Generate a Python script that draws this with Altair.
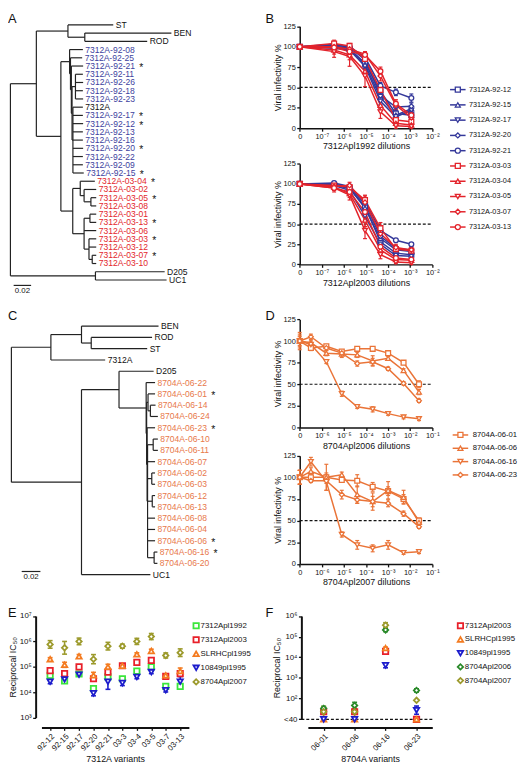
import altair as alt
import pandas as pd

# ----------------------------------------------------------------- data
B_SERIES = ["7312A-92-12", "7312A-92-15", "7312A-92-17", "7312A-92-20", "7312A-92-21",
            "7312A-03-03", "7312A-03-04", "7312A-03-05", "7312A-03-07", "7312A-03-13"]
B_DILUTIONS = [0, 3.6e-7, 1.8e-6, 9.0e-6, 4.5e-5, 2.25e-4, 1.125e-3]
B1_VALUES = [
    [100, 100, 97, 80, 45, 18, 16],
    [100, 101, 98, 78, 38, 16, 24],
    [100, 98, 96, 76, 33, 14, 22],
    [100, 103, 99, 84, 40, 26, 27],
    [100, 102, 100, 87, 52, 44, 37],
    [100, 104, 101, 85, 47, 10, 8],
    [100, 96, 90, 70, 28, 6, 4],
    [100, 94, 88, 64, 20, 3, 2],
    [100, 100, 97, 91, 64, 28, 13],
    [100, 99, 94, 90, 70, 30, 16],
]
B1_SD = [
    [0, 3, 2, 3, 5, 4, 4], [0, 4, 3, 4, 4, 3, 3], [0, 2, 2, 3, 4, 3, 3],
    [0, 3, 2, 3, 5, 4, 4], [0, 3, 2, 2, 4, 4, 5], [0, 4, 3, 3, 5, 3, 3],
    [0, 5, 6, 6, 6, 3, 2], [0, 7, 12, 13, 8, 3, 2], [0, 3, 3, 3, 6, 5, 4],
    [0, 4, 4, 3, 5, 5, 5],
]
B2_VALUES = [
    [100, 99, 94, 72, 28, 14, 12],
    [100, 100, 95, 70, 32, 18, 16],
    [100, 98, 92, 60, 25, 11, 10],
    [100, 99, 96, 75, 35, 20, 18],
    [100, 101, 97, 78, 42, 30, 25],
    [100, 98, 96, 80, 45, 19, 17],
    [100, 96, 88, 55, 18, 6, 5],
    [100, 95, 86, 42, 12, 3, 2],
    [100, 97, 98, 77, 38, 21, 18],
    [100, 95, 90, 65, 22, 8, 6],
]
B2_SD = [
    [0, 2, 2, 4, 4, 3, 3], [0, 3, 2, 4, 4, 3, 3], [0, 2, 3, 5, 4, 3, 3],
    [0, 2, 2, 4, 4, 3, 3], [0, 2, 2, 4, 4, 2, 2], [0, 4, 3, 6, 7, 4, 4],
    [0, 4, 5, 8, 5, 3, 3], [0, 5, 6, 10, 5, 2, 2], [0, 3, 4, 8, 6, 4, 4],
    [0, 3, 5, 7, 5, 3, 3],
]

D_SERIES = ["8704A-06-01", "8704A-06-06", "8704A-06-16", "8704A-06-23"]
D_DILUTIONS = [0, 3.2e-7, 1.6e-6, 8e-6, 4e-5, 2e-4, 1e-3, 5e-3, 2.5e-2]
D1_VALUES = [
    [100, 92, 94, 88, 91, 91, 86, 75, 50],
    [100, 98, 86, 85, 84, 77, 80, 66, 41],
    [100, 96, 76, 39, 24, 21, 16, 12, 10],
    [100, 105, 92, 86, 74, 76, 68, 51, 31],
]
D1_SD = [
    [8, 3, 2, 2, 2, 2, 2, 2, 4], [6, 3, 3, 4, 3, 6, 2, 2, 3],
    [5, 3, 2, 3, 2, 3, 2, 2, 2], [10, 3, 3, 3, 3, 4, 2, 2, 2],
]
D2_VALUES = [
    [100, 100, 100, 97, 96, 89, 84, 75, 50],
    [100, 107, 100, 103, 80, 72, 85, 77, 48],
    [100, 118, 95, 34, 22, 18, 22, 13, 14],
    [100, 96, 96, 80, 74, 72, 70, 58, 43],
]
D2_SD = [
    [8, 3, 3, 2, 7, 5, 5, 5, 3], [8, 4, 15, 3, 10, 10, 10, 8, 3],
    [8, 5, 10, 3, 5, 4, 5, 2, 2], [8, 2, 3, 5, 4, 6, 4, 3, 2],
]
HALF_LINE = [50]

E_VARIANTS = ["92-12", "92-15", "92-17", "92-20", "92-21", "03-3", "03-4", "03-5", "03-7", "03-13"]
E_SERA = ["7312Apl1992", "7312Apl2003", "SLRHCpl1995", "10849pl1995", "8704Apl2007"]
E_VALUES = [
    [4.6e4, 2.8e4, 5.2e4, 1.4e4, 4.0e4, 3.4e4, 6.8e4, 1.0e5, 1.7e4, 1.7e4],
    [7.1e4, 5.4e4, 1.0e5, 3.4e4, 6.2e4, 1.1e5, 1.5e5, 1.8e5, 4.2e4, 5.4e4],
    [2.0e5, 1.2e5, 2.6e5, 4.6e4, 1.0e5, 1.1e5, 3.1e5, 4.2e5, 4.6e4, 6.8e4],
    [2.6e4, 3.2e4, 4.9e4, 9.1e3, 2.6e4, 2.3e4, 4.0e4, 6.2e4, 1.2e4, 2.6e4],
    [7.6e5, 5.6e5, 1.0e6, 2.0e5, 6.5e5, 6.5e5, 1.0e6, 1.55e6, 2.8e5, 3.6e5],
]
E_ERR_LOG = [
    [0.05, 0.06, 0.05, 0.06, 0.05, 0.04, 0.05, 0.05, 0.05, 0.10],
    [0.08, 0.06, 0.05, 0.08, 0.15, 0.06, 0.08, 0.10, 0.06, 0.10],
    [0.06, 0.10, 0.07, 0.12, 0.10, 0.05, 0.06, 0.07, 0.05, 0.12],
    [0.08, 0.12, 0.06, 0.10, 0.30, 0.10, 0.07, 0.06, 0.07, 0.20],
    [0.15, 0.25, 0.13, 0.18, 0.15, 0.08, 0.12, 0.12, 0.10, 0.15],
]

F_VARIANTS = ["06-01", "06-06", "06-16", "06-23"]
F_SERA = ["7312Apl2003", "SLRHCpl1995", "10849pl1995", "8704Apl2006", "8704Apl2007"]
F_VALUES = [          # 40 = below detection (<40)
    [56, 56, 1.95e4, 40],
    [40, 40, 2.8e4, 40],
    [40, 40, 4.1e3, 60],
    [65, 74, 2.1e5, 250],
    [56, 56, 3.6e5, 93],
]
F_ERR = [
    [0.10, 0.10, 0.05, 0.0],
    [0.0, 0.0, 0.05, 0.0],
    [0.0, 0.0, 0.12, 0.20],
    [0.10, 0.15, 0.08, 0.08],
    [0.25, 0.25, 0.12, 0.0],
]

TREE_A = ("n", 0.0, [
    ("n", 0.0297, [
        ("n", 0.0659, [("l", 0.1178, "ST"),
                       ("n", 0.0852, [("l", 0.1844, "BEN"), ("l", 0.1567, "ROD")])]),
        ("n", 0.0578, [
            ("n", 0.0678, [
                ("l", 0.0830, "7312A-92-08"),
                ("n", 0.0688, [
                    ("l", 0.0822, "7312A-92-25"),
                    ("n", 0.0698, [
                        ("l", 0.0833, "7312A-92-21"),
                        ("n", 0.0706, [
                            ("n", 0.0745, [("l", 0.0830, "7312A-92-11"), ("l", 0.0833, "7312A-92-26"),
                                           ("l", 0.0830, "7312A-92-18"), ("l", 0.0833, "7312A-92-23")]),
                            ("n", 0.0716, [("l", 0.0830, "7312A"), ("l", 0.0830, "7312A-92-17"),
                                           ("l", 0.0833, "7312A-92-12"), ("l", 0.0830, "7312A-92-13"),
                                           ("l", 0.0830, "7312A-92-16"), ("l", 0.0833, "7312A-92-20"),
                                           ("l", 0.0830, "7312A-92-22"), ("l", 0.0830, "7312A-92-09"),
                                           ("l", 0.0840, "7312A-92-15")]),
                        ]),
                    ]),
                ]),
            ]),
            ("n", 0.0714, [
                ("n", 0.0800, [("l", 0.0967, "7312A-03-04"),
                               ("n", 0.0844, [("l", 0.0983, "7312A-03-02"),
                                              ("n", 0.0922, [("l", 0.0983, "7312A-03-05"),
                                                             ("l", 0.0983, "7312A-03-08")])])]),
                ("n", 0.0844, [("n", 0.0911, [("l", 0.0983, "7312A-03-01"), ("l", 0.0983, "7312A-03-13")]),
                               ("l", 0.0983, "7312A-03-06"),
                               ("n", 0.0900, [("l", 0.0983, "7312A-03-03"), ("l", 0.0983, "7312A-03-12"),
                                              ("n", 0.0937, [("l", 0.0983, "7312A-03-07"),
                                                             ("l", 0.0983, "7312A-03-10")])])]),
            ]),
        ]),
    ]),
    ("n", 0.0974, [("l", 0.1767, "D205"), ("l", 0.1789, "UC1")]),
])

TREE_C = ("n", 0.0, [
    ("n", 0.0422, [
        ("n", 0.0749, [("l", 0.1572, "BEN"),
                       ("n", 0.0853, [("l", 0.1503, "ROD"), ("l", 0.1451, "ST")])]),
        ("l", 0.1002, "7312A")]),
    ("n", 0.0749, [
        ("n", 0.1150, [
            ("l", 0.1520, "D205"),
            ("n", 0.1440, [
                ("l", 0.1535, "8704A-06-22"),
                ("n", 0.1445, [
                    ("n", 0.1460, [("l", 0.1535, "8704A-06-01"),
                                   ("n", 0.1485, [("l", 0.1540, "8704A-06-14"),
                                                  ("l", 0.1565, "8704A-06-24")])]),
                    ("n", 0.1450, [
                        ("l", 0.1535, "8704A-06-23"),
                        ("n", 0.1455, [
                            ("n", 0.1515, [("l", 0.1565, "8704A-06-10"), ("l", 0.1565, "8704A-06-11")]),
                            ("l", 0.1535, "8704A-06-07"),
                            ("n", 0.1500, [("l", 0.1535, "8704A-06-02"), ("l", 0.1535, "8704A-06-03")]),
                            ("n", 0.1505, [("l", 0.1535, "8704A-06-12"), ("l", 0.1535, "8704A-06-13")]),
                            ("l", 0.1535, "8704A-06-08"), ("l", 0.1535, "8704A-06-04"),
                            ("l", 0.1535, "8704A-06-06"),
                            ("n", 0.1525, [("l", 0.1560, "8704A-06-16"), ("l", 0.1560, "8704A-06-20")]),
                        ]),
                    ]),
                ]),
            ]),
        ]),
        ("l", 0.1485, "UC1")]),
])

STARRED = ["7312A-92-21", "7312A-92-17", "7312A-92-12", "7312A-92-20", "7312A-92-15",
           "7312A-03-04", "7312A-03-05", "7312A-03-13", "7312A-03-03", "7312A-03-07",
           "8704A-06-01", "8704A-06-23", "8704A-06-06", "8704A-06-16"]
SCALE_BAR = 0.02
PANEL_LETTERS = ["A", "B", "C", "D", "E", "F"]

# ----------------------------------------------------------------- style / layout
W, H = 520, 763
FONT = "Liberation Sans"
INK = "#111111"
BLUE, RED, ORANGE = "#34389a", "#e3232b", "#ea7438"
B_COLORS = [BLUE] * 5 + [RED] * 5
B_SHAPES = ["square", "triangle-up", "triangle-down", "diamond", "circle"] * 2
D_COLORS = [ORANGE] * 4
D_SHAPES = ["square", "triangle-up", "triangle-down", "diamond"]
SERA_COLORS = {"7312Apl1992": "#3be63b", "7312Apl2003": "#e8202a", "SLRHCpl1995": "#f47b20",
               "10849pl1995": "#1c1ccc", "8704Apl2006": "#2a8a2a", "8704Apl2007": "#9c9a2c"}
SERA_SHAPES = {"7312Apl1992": "square", "7312Apl2003": "square", "SLRHCpl1995": "triangle-up",
               "10849pl1995": "triangle-down", "8704Apl2006": "diamond", "8704Apl2007": "diamond"}


def cx(x):
    return (x - 1.5) * 0.985


def cy(y):
    return (y - 3) * 0.99


def lin(domain, rng):
    return alt.Scale(domain=domain, range=rng, nice=False, zero=False)


SUP = str.maketrans("-0123456789", "⁻⁰¹²³⁴⁵⁶⁷⁸⁹")


def ternary(pairs):
    s = "''"
    for k, v in reversed(pairs):
        s = f"datum.value == {k} ? '{v}' : ({s})"
    return s


AXSTYLE = dict(labelFont=FONT, titleFont=FONT, labelColor=INK, titleColor=INK, domainColor=INK,
               tickColor=INK, titleFontWeight="normal", grid=False, labelFlush=False,
               labelOverlap=False, domainWidth=1.5, tickWidth=1.3, tickSize=3)

layers = []

# ----------------------------------------------------------------- panel letters
letters = pd.DataFrame({"L": PANEL_LETTERS, "col": [0, 1, 0, 1, 0, 1], "row": [0, 0, 1, 1, 2, 2]})
layers.append(
    alt.Chart(letters).mark_text(font=FONT, fontSize=13, align="left", baseline="middle", color=INK)
    .encode(x=alt.X("col:Q", scale=lin([0, 1], [cx(1.5), cx(267)]), axis=None),
            y=alt.Y("row:Q", scale=lin([0, 2], [cy(8), cy(618)]), axis=None),
            text="L:N"))


# ----------------------------------------------------------------- trees
def build_tree(tree):
    leaves, segs = [], []

    def walk(node, parent_depth):
        if node[0] == "l":
            _, depth, name = node
            idx = len(leaves)
            leaves.append(dict(name=name, depth=depth, idx=idx))
            segs.append(dict(x=parent_depth, x2=depth, y=idx, y2=idx))
            return idx
        _, depth, children = node
        ys = [walk(c, depth) for c in children]
        y = (ys[0] + ys[-1]) / 2
        segs.append(dict(x=depth, x2=depth, y=ys[0], y2=ys[-1]))
        if parent_depth is not None:
            segs.append(dict(x=parent_depth, x2=depth, y=y, y2=y))
        return y

    walk(tree, None)
    return pd.DataFrame(leaves), pd.DataFrame(segs)


def group_of(name):
    if name.startswith("7312A-92"):
        return "g92"
    if name.startswith("7312A-03"):
        return "g03"
    if name.startswith("8704A"):
        return "g06"
    return "ref"


def tree_layers(tree, x0, px_per_unit, y_top, y_bot, bar_start, bar_row):
    leaves, segs = build_tree(tree)
    n = len(leaves)
    leaves["grp"] = leaves["name"].map(group_of)
    leaves["star"] = leaves["name"].isin(STARRED)
    xs = lin([0, 0.2], [cx(x0), cx(x0 + 0.2 * px_per_unit)])
    ys = lin([0, n - 1], [cy(y_top), cy(y_bot)])
    out = []
    out.append(alt.Chart(segs).mark_rule(color="#222222", strokeWidth=1.2)
               .encode(x=alt.X("x:Q", scale=xs, axis=None), x2="x2:Q",
                       y=alt.Y("y:Q", scale=ys, axis=None), y2="y2:Q"))
    gcol = alt.Scale(domain=["ref", "g92", "g03", "g06"], range=[INK, "#3d429e", "#e3262c", "#e8784a"])
    out.append(alt.Chart(leaves).mark_text(font=FONT, fontSize=8.7, align="left", baseline="middle", dx=2.5)
               .encode(x=alt.X("depth:Q", scale=xs, axis=None), y=alt.Y("idx:Q", scale=ys, axis=None),
                       text="name:N", color=alt.Color("grp:N", scale=gcol, legend=None)))
    out.append(alt.Chart(leaves[leaves["star"]]).mark_text(font=FONT, fontSize=10.5, align="left",
                                                           baseline="middle", dx=57, dy=2,
                                                           color=INK, text="*")
               .encode(x=alt.X("depth:Q", scale=xs, axis=None), y=alt.Y("idx:Q", scale=ys, axis=None)))
    bar = pd.DataFrame({"a": [bar_start], "b": [bar_start + SCALE_BAR], "r": [n - 1 + bar_row],
                        "m": [bar_start + SCALE_BAR / 2], "t": [f"{SCALE_BAR:.2f}"]})
    out.append(alt.Chart(bar).mark_rule(color="#222222", strokeWidth=1.2)
               .encode(x=alt.X("a:Q", scale=xs, axis=None), x2="b:Q",
                       y=alt.Y("r:Q", scale=ys, axis=None)))
    out.append(alt.Chart(bar).mark_text(font=FONT, fontSize=8, baseline="top", dy=1.5, color=INK)
               .encode(x=alt.X("m:Q", scale=xs, axis=None), y=alt.Y("r:Q", scale=ys, axis=None),
                       text="t:N"))
    return out


layers += tree_layers(TREE_A, 4, 900, 14.3, 276, 0.0037, 0.66)
layers += tree_layers(TREE_C, 5, 965, 323.3, 578.3, 0.011, -0.28)


# ----------------------------------------------------------------- dose-response panels
def dose_layers(series, colors, shapes, dil, values, sds, xdom, x_px, y_px, xtitle):
    rows = []
    for s, vals, sd in zip(series, values, sds):
        for d, v, e in zip(dil, vals, sd):
            rows.append(dict(s=s, dil=d, v=v, sd=e))
    df = pd.DataFrame(rows)
    xs = lin(xdom, [cx(x_px[0]), cx(x_px[1])])
    ys = lin([0, 125], [cy(y_px[0]), cy(y_px[1])])
    ticks = list(range(xdom[0], xdom[1] + 1))
    pairs = [(k, "0" if k == xdom[0] else "10" + str(k).translate(SUP)) for k in ticks]
    xaxis = alt.Axis(orient="bottom", offset=cy(y_px[0]) - H, values=ticks, labelExpr=ternary(pairs),
                     title=xtitle, labelFontSize=7.5, titleFontSize=9, labelPadding=1.5,
                     titlePadding=2, **AXSTYLE)
    yaxis = alt.Axis(orient="left", offset=-cx(x_px[0]), values=[0, 25, 50, 75, 100, 125],
                     title="Viral infectivity %", labelFontSize=7.5, titleFontSize=9,
                     labelPadding=1.5, titlePadding=1, **AXSTYLE)
    color = alt.Color("s:N", scale=alt.Scale(domain=series, range=colors), legend=None)
    base = alt.Chart(df).transform_calculate(
        lx=f"datum.dil > 0 ? log(datum.dil) / LN10 : {xdom[0]}",
        lo="datum.v - datum.sd", hi="datum.v + datum.sd")
    out = []
    out.append(alt.Chart(pd.DataFrame({"h": HALF_LINE})).mark_rule(strokeDash=[3, 2], color=INK,
                                                                  strokeWidth=1.2)
               .encode(x=alt.XDatum(xdom[0], type="quantitative", scale=xs, axis=xaxis),
                       x2=alt.X2Datum(xdom[1]),
                       y=alt.Y("h:Q", scale=ys, axis=yaxis)))
    out.append(base.mark_line(strokeWidth=1.5)
               .encode(x=alt.X("lx:Q", scale=xs, axis=None), y=alt.Y("v:Q", scale=ys, axis=None),
                       color=color))
    eb = base.transform_filter("datum.sd > 0")
    out.append(eb.mark_rule(strokeWidth=1.2)
               .encode(x=alt.X("lx:Q", scale=xs, axis=None), y=alt.Y("lo:Q", scale=ys, axis=None),
                       y2="hi:Q", color=color))
    out.append(eb.transform_fold(["lo", "hi"], as_=["k", "yy"])
               .mark_tick(orient="horizontal", size=4, thickness=1.2, opacity=1)
               .encode(x=alt.X("lx:Q", scale=xs, axis=None), y=alt.Y("yy:Q", scale=ys, axis=None),
                       color=color))
    out.append(base.mark_point(filled=False, fill="white", fillOpacity=1, opacity=1, size=24,
                               strokeWidth=1.3)
               .encode(x=alt.X("lx:Q", scale=xs, axis=None), y=alt.Y("v:Q", scale=ys, axis=None),
                       color=color,
                       shape=alt.Shape("s:N", scale=alt.Scale(domain=series, range=shapes),
                                       legend=None)))
    return out


def line_legend(series, colors, shapes, x_px, y_px, text_dx, font_size):
    df = pd.DataFrame({"s": series})
    xs = lin([0, 1], [cx(x_px[0]), cx(x_px[1])])
    ys = alt.Scale(type="point", domain=series, range=[cy(y_px[0]), cy(y_px[1])], padding=0)
    color = alt.Color("s:N", scale=alt.Scale(domain=series, range=colors), legend=None)
    y = alt.Y("s:N", scale=ys, axis=None)
    out = []
    out.append(alt.Chart(df).mark_rule(strokeWidth=1.5)
               .encode(x=alt.XDatum(0, type="quantitative", scale=xs, axis=None), x2=alt.X2Datum(1),
                       y=y, color=color))
    out.append(alt.Chart(df).mark_point(filled=False, fill="white", fillOpacity=1, opacity=1, size=26,
                                        strokeWidth=1.3)
               .encode(x=alt.XDatum(0.5, type="quantitative", scale=xs, axis=None), y=y, color=color,
                       shape=alt.Shape("s:N", scale=alt.Scale(domain=series, range=shapes),
                                       legend=None)))
    out.append(alt.Chart(df).mark_text(font=FONT, fontSize=font_size, align="left", baseline="middle",
                                       dx=text_dx, color=INK)
               .encode(x=alt.XDatum(1, type="quantitative", scale=xs, axis=None), y=y, text="s:N"))
    return out


layers += dose_layers(B_SERIES, B_COLORS, B_SHAPES, B_DILUTIONS, B1_VALUES, B1_SD, [-8, -2],
                      [302.3, 439], [120.3, 15.8], "7312Apl1992 dilutions")
layers += dose_layers(B_SERIES, B_COLORS, B_SHAPES, B_DILUTIONS, B2_VALUES, B2_SD, [-8, -2],
                      [302.3, 439], [260, 156.8], "7312Apl2003 dilutions")
layers += line_legend(B_SERIES, B_COLORS, B_SHAPES, [457.3, 473.3], [80.7, 221.7], 3.4, 7.4)

layers += dose_layers(D_SERIES, D_COLORS, D_SHAPES, D_DILUTIONS, D1_VALUES, D1_SD, [-7, -1],
                      [302.3, 439], [427.3, 316.5], "8704Apl2006 dilutions")
layers += dose_layers(D_SERIES, D_COLORS, D_SHAPES, D_DILUTIONS, D2_VALUES, D2_SD, [-7, -1],
                      [302.3, 439], [567.3, 456.2], "8704Apl2007 dilutions")
layers += line_legend(D_SERIES, D_COLORS, D_SHAPES, [460, 476], [435, 476], 4.6, 7.8)


# ----------------------------------------------------------------- IC50 panels
def ic50_layers(variants, sera, values, errs, kind, x_px, pt_pad, y_px, axis_x, title,
                legend_x, legend_y):
    rows = []
    for s, vals, es in zip(sera, values, errs):
        for c, v, e in zip(variants, vals, es):
            rows.append(dict(s=s, c=c, v=v, e=e))
    df = pd.DataFrame(rows)
    color = alt.Color("s:N", scale=alt.Scale(domain=sera, range=[SERA_COLORS[s] for s in sera]),
                      legend=None)
    shape = alt.Shape("s:N", scale=alt.Scale(domain=sera, range=[SERA_SHAPES[s] for s in sera]),
                      legend=None)
    xs = alt.Scale(type="point", domain=variants, range=[cx(x_px[0]), cx(x_px[1])], padding=pt_pad)
    if kind == "E":
        ys = alt.Scale(type="log", domain=[1e3, 1e7], range=[cy(y_px[0]), cy(y_px[1])], nice=False)
        yvals = [1e3, 1e4, 1e5, 1e6, 1e7]
        pairs = [(int(v), "10" + str(k).translate(SUP)) for v, k in zip(yvals, range(3, 8))]
        base = alt.Chart(df).transform_calculate(p="datum.v", lo="datum.v / pow(10, datum.e)",
                                                 hi="datum.v * pow(10, datum.e)")
    else:
        ys = lin([1, 6], [cy(y_px[0]), cy(y_px[1])])
        yvals = [1, 2, 3, 4, 5, 6]
        pairs = [(1, "<40")] + [(k, "10" + str(k).translate(SUP)) for k in range(2, 7)]
        base = alt.Chart(df).transform_calculate(
            p="datum.v <= 40 ? 1 : (datum.v < 100 ? 1 + (log(datum.v) - log(40)) / (log(100) - log(40))"
              " : log(datum.v) / LN10)").transform_calculate(lo="datum.p - datum.e",
                                                             hi="datum.p + datum.e")
    xaxis = alt.Axis(orient="bottom", offset=cy(axis_x[1]) - H, labelAngle=-45, title=title,
                     labelFontSize=8, titleFontSize=9, labelPadding=2, titlePadding=3,
                     **{**AXSTYLE, "domainWidth": 2})
    yaxis = alt.Axis(orient="left", offset=-cx(axis_x[0]), values=yvals, labelExpr=ternary(pairs),
                     title="Reciprocal IC₅₀", labelFontSize=8, titleFontSize=9, labelPadding=1.5,
                     titlePadding=2, **{**AXSTYLE, "domainWidth": 2})
    out = []
    if kind == "F":
        xq = lin([0, 1], [cx(axis_x[0]), cx(x_px[1])])
        out.append(alt.Chart(pd.DataFrame({"h": [1]})).mark_rule(strokeDash=[3, 2], color=INK,
                                                                strokeWidth=1.2)
                   .encode(x=alt.XDatum(0, type="quantitative", scale=xq, axis=None),
                           x2=alt.X2Datum(1), y=alt.Y("h:Q", scale=ys, axis=None)))
    out.append(base.mark_rule(strokeWidth=1.6, opacity=1)
               .encode(x=alt.X("c:N", scale=xs, axis=xaxis, sort=variants),
                       y=alt.Y("lo:Q", scale=ys, axis=yaxis), y2="hi:Q", color=color))
    out.append(base.transform_fold(["lo", "hi"], as_=["k", "yy"])
               .mark_tick(orient="horizontal", size=5, thickness=1.6, opacity=1)
               .encode(x=alt.X("c:N", scale=xs, axis=None, sort=variants),
                       y=alt.Y("yy:Q", scale=ys, axis=None), color=color))
    out.append(base.mark_point(filled=False, fill="white", fillOpacity=1, opacity=1, size=30,
                               strokeWidth=1.8)
               .encode(x=alt.X("c:N", scale=xs, axis=None, sort=variants),
                       y=alt.Y("p:Q", scale=ys, axis=None), color=color, shape=shape))
    # legend
    ldf = pd.DataFrame({"s": sera})
    lx = lin([0, 1], [cx(legend_x[0]), cx(legend_x[1])])
    ly = alt.Scale(type="point", domain=sera, range=[cy(legend_y[0]), cy(legend_y[1])], padding=0)
    out.append(alt.Chart(ldf).mark_point(filled=False, fill="white", fillOpacity=1, opacity=1, size=30,
                                         strokeWidth=1.8)
               .encode(x=alt.XDatum(0, type="quantitative", scale=lx, axis=None),
                       y=alt.Y("s:N", scale=ly, axis=None), color=color, shape=shape))
    out.append(alt.Chart(ldf).mark_text(font=FONT, fontSize=8, align="left", baseline="middle",
                                        color=INK)
               .encode(x=alt.XDatum(1, type="quantitative", scale=lx, axis=None),
                       y=alt.Y("s:N", scale=ly, axis=None), text="s:N"))
    return out


layers += ic50_layers(E_VARIANTS, E_SERA, E_VALUES, E_ERR_LOG, "E", [36, 188], 0.6, [725, 620.7],
                      [30, 735], "7312A variants", [195.5, 200], [630.7, 688.3])
layers += ic50_layers(F_VARIANTS, F_SERA, F_VALUES, F_ERR, "F", [310.7, 439], 0.51, [726.7, 620.7],
                      [304, 735], "8704A variants", [468, 472.5], [630.7, 687])

chart = (alt.layer(*layers)
         .resolve_scale(x="independent", y="independent", color="independent", shape="independent")
         .properties(width=W, height=H, padding=0, autosize=alt.AutoSizeParams(type="none"))
         .configure_view(stroke=None)
         .configure_text(font=FONT))

chart.save("out.html", embed_options={"renderer": "svg", "actions": False})
